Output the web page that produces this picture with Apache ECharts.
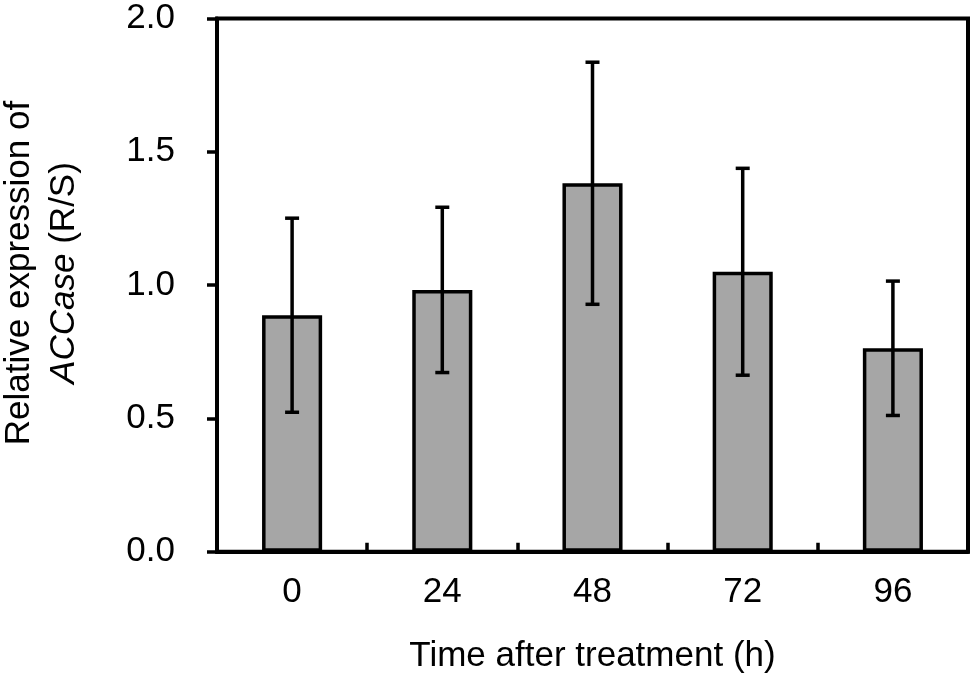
<!DOCTYPE html>
<html>
<head>
<meta charset="utf-8">
<script src="https://cdn.jsdelivr.net/npm/echarts@6/dist/echarts.min.js"></script>
<style>
html,body{margin:0;padding:0;background:#fff;}
#chart{width:975px;height:682px;}
</style>
</head>
<body>
<div id="chart"></div>
<script>
var categories = ['0', '24', '48', '72', '96'];
var means = [0.887, 0.982, 1.382, 1.050, 0.763];
var errors = [0.364, 0.310, 0.454, 0.388, 0.252];
var yTicks = [0, 0.5, 1.0, 1.5, 2.0];

var FONT = 'Arial, "Liberation Sans", sans-serif';
var chart = echarts.init(document.getElementById('chart'));

var errData = categories.map(function (c, i) {
  return [i, means[i] - errors[i], means[i] + errors[i]];
});

chart.setOption({
  animation: false,
  backgroundColor: '#ffffff',
  grid: {
    left: 217, right: 7, top: 18.5, bottom: 130.3,
    containLabel: false,
    outerBoundsMode: 'none',
    show: true, borderColor: '#000', borderWidth: 4, backgroundColor: 'transparent'
  },
  xAxis: {
    type: 'category',
    data: categories,
    boundaryGap: true,
    axisLine: { lineStyle: { color: '#000', width: 4 } },
    axisTick: { show: true, inside: true, length: 9, alignWithLabel: false, lineStyle: { color: '#000', width: 3.5 } },
    axisLabel: { color: '#000', fontFamily: FONT, fontSize: 35, margin: 23 },
    name: 'Time after treatment (h)',
    nameLocation: 'middle',
    nameGap: 87,
    nameTextStyle: { color: '#000', fontFamily: FONT, fontSize: 35 }
  },
  yAxis: {
    type: 'value',
    min: yTicks[0],
    max: yTicks[yTicks.length - 1],
    interval: 0.5,
    splitLine: { show: false },
    axisLine: { show: true, lineStyle: { color: '#000', width: 4 } },
    axisTick: { show: true, inside: false, length: 10, lineStyle: { color: '#000', width: 3.5 } },
    axisLabel: {
      color: '#000', fontFamily: FONT, fontSize: 35, margin: 42,
      formatter: function (v) { return v.toFixed(1); }
    }
  },
  graphic: [{
    type: 'text',
    x: 42,
    y: 273,
    rotation: Math.PI / 2,
    style: {
      text: 'Relative expression of\n{i|ACCase} (R/S)',
      font: '35px ' + FONT,
      fill: '#000',
      align: 'center',
      verticalAlign: 'middle',
      lineHeight: 45,
      rich: {
        i: { fontStyle: 'italic', fontSize: 35, fontFamily: FONT, lineHeight: 45, fill: '#000' }
      }
    }
  }],
  series: [{
    type: 'bar',
    data: means,
    barWidth: '40%',
    itemStyle: { color: '#a6a6a6', borderColor: '#000', borderWidth: 3.5 },
    z: 2
  }, {
    type: 'custom',
    data: errData,
    z: 5,
    renderItem: function (params, api) {
      var x = api.value(0);
      var lo = api.coord([x, api.value(1)]);
      var hi = api.coord([x, api.value(2)]);
      var cap = 7;
      var style = { stroke: '#000', lineWidth: 3.5 };
      return {
        type: 'group',
        children: [
          { type: 'line', shape: { x1: hi[0], y1: hi[1], x2: lo[0], y2: lo[1] }, style: style },
          { type: 'line', shape: { x1: hi[0] - cap, y1: hi[1], x2: hi[0] + cap, y2: hi[1] }, style: style },
          { type: 'line', shape: { x1: lo[0] - cap, y1: lo[1], x2: lo[0] + cap, y2: lo[1] }, style: style }
        ]
      };
    }
  }]
});
</script>
</body>
</html>
